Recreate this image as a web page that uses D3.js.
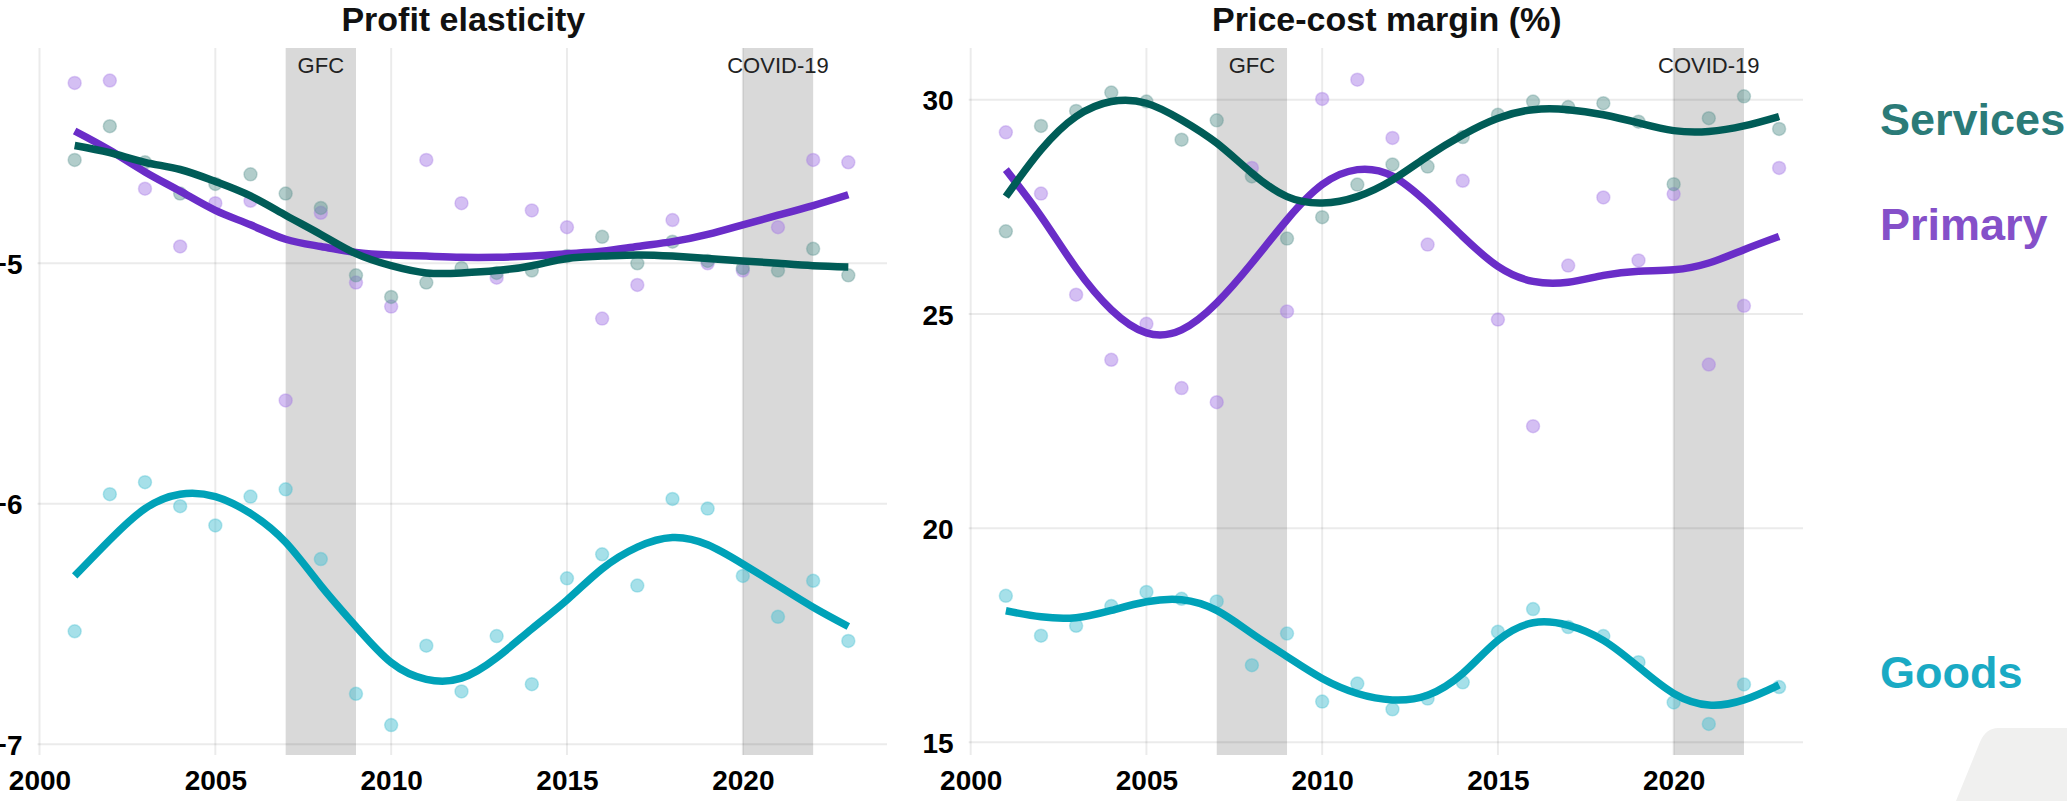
<!DOCTYPE html>
<html>
<head>
<meta charset="utf-8">
<script src="https://cdn.jsdelivr.net/npm/d3@7"></script>
<style>
  body { margin: 0; background: #fff; }
  svg { display: block; font-family: "Liberation Sans", Arial, sans-serif; }
  .axis text { font-size: 28px; font-weight: bold; fill: #000; }
  .panel-title { font-size: 34px; font-weight: bold; fill: #111; text-anchor: middle; }
  .band-label { font-size: 22px; fill: #222; text-anchor: middle; }
  .legend-label { font-size: 45px; font-weight: bold; }
</style>
</head>
<body>
<svg id="viz"></svg>
<script>
// ----------------------------------------------------------------------------------------------------------------
// DATA

var years = [2001, 2002, 2003, 2004, 2005, 2006, 2007, 2008, 2009, 2010, 2011, 2012,
             2013, 2014, 2015, 2016, 2017, 2018, 2019, 2020, 2021, 2022, 2023];

var seriesNames = ["Services", "Primary", "Goods"];

// profit elasticity, yearly estimates
var elasticityServices = [-4.57, -4.43, -4.58, -4.71, -4.67, -4.63, -4.71, -4.77, -5.05, -5.14, -5.08, -5.02,
                          -5.04, -5.03, -4.97, -4.89, -5.00, -4.91, -4.99, -5.02, -5.03, -4.94, -5.05];
var elasticityPrimary  = [-4.25, -4.24, -4.69, -4.93, -4.75, -4.74, -5.57, -4.79, -5.08, -5.18, -4.57, -4.75,
                          -5.06, -4.78, -4.85, -5.23, -5.09, -4.82, -5.00, -5.03, -4.85, -4.57, -4.58];
var elasticityGoods    = [-6.53, -5.96, -5.91, -6.01, -6.09, -5.97, -5.94, -6.23, -6.79, -6.92, -6.59, -6.78,
                          -6.55, -6.75, -6.31, -6.21, -6.34, -5.98, -6.02, -6.30, -6.47, -6.32, -6.57];

// profit elasticity, smoothed trend
var elasticityServicesTrend = [-4.51, -4.54, -4.58, -4.61, -4.66, -4.72, -4.80, -4.88, -4.96, -5.01, -5.04, -5.04,
                               -5.03, -5.01, -4.98, -4.97, -4.965, -4.97, -4.98, -4.99, -5.00, -5.01, -5.015];
var elasticityPrimaryTrend  = [-4.45, -4.53, -4.62, -4.70, -4.78, -4.84, -4.90, -4.93, -4.955, -4.965, -4.97, -4.975,
                               -4.975, -4.97, -4.96, -4.95, -4.93, -4.91, -4.88, -4.84, -4.80, -4.76, -4.715];
var elasticityGoodsTrend    = [-6.30, -6.15, -6.02, -5.96, -5.97, -6.04, -6.16, -6.34, -6.51, -6.66, -6.73, -6.725,
                               -6.64, -6.52, -6.40, -6.27, -6.18, -6.14, -6.17, -6.25, -6.34, -6.43, -6.51];

// price-cost margin (%), yearly estimates
var marginServices = [26.93, 29.39, 29.74, 30.17, 29.96, 29.07, 29.52, 28.21, 26.76, 27.26, 28.02, 28.49,
                      28.44, 29.13, 29.65, 29.96, 29.83, 29.92, 29.49, 28.03, 29.57, 30.08, 29.32];
var marginPrimary  = [29.24, 27.81, 25.45, 23.93, 24.77, 23.27, 22.94, 28.41, 25.06, 30.02, 30.47, 29.11,
                      26.62, 28.11, 24.87, 22.38, 26.13, 27.72, 26.25, 27.80, 23.82, 25.19, 28.41];
var marginGoods    = [18.42, 17.49, 17.72, 18.18, 18.51, 18.35, 18.29, 16.80, 17.54, 15.95, 16.37, 15.77,
                      16.02, 16.40, 17.58, 18.11, 17.69, 17.48, 16.87, 15.93, 15.43, 16.35, 16.29];

// price-cost margin (%), smoothed trend
var marginServicesTrend = [27.74, 28.83, 29.61, 29.96, 29.92, 29.53, 28.99, 28.29, 27.74, 27.59, 27.74, 28.13,
                           28.68, 29.18, 29.57, 29.77, 29.77, 29.65, 29.46, 29.28, 29.26, 29.39, 29.61];
var marginPrimaryTrend  = [28.37, 27.28, 26.07, 25.10, 24.56, 24.63, 25.26, 26.19, 27.20, 28.02, 28.37, 28.22,
                           27.59, 26.81, 26.11, 25.76, 25.74, 25.90, 26.00, 26.03, 26.19, 26.50, 26.81];
var marginGoodsTrend    = [18.07, 17.93, 17.91, 18.08, 18.28, 18.33, 18.08, 17.54, 17.00, 16.49, 16.14, 15.99,
                           16.10, 16.61, 17.38, 17.79, 17.73, 17.38, 16.76, 16.14, 15.87, 15.99, 16.34];

var xTicks = [2000, 2005, 2010, 2015, 2020];
var elasticityTicks = [-7, -6, -5];
var marginTicks = [15, 20, 25, 30];

var crisisLabels = ["GFC", "COVID-19"];
var crisisStart = [2007, 2020];
var crisisEnd = [2009, 2022];



// ----------------------------------------------------------------------------------------------------------------
// INITIAL SETUP

var w = 2067;
var h = 801;
var viz = d3.select("#viz").attr("width", w).attr("height", h);

var lineColor  = {"Services": "#005c57", "Primary": "#6a2dc8", "Goods": "#00a2b8"};
var pointColor = {"Services": "#5f9692", "Primary": "#a57ae6", "Goods": "#45bfd2"};
var labelColor = {"Services": "#2b7b78", "Primary": "#8550c9", "Goods": "#1aaac4"};

var plotTop = 48;
var plotBottom = 755;

var panels = [
  {
    title: "Profit elasticity",
    x: d3.scaleLinear().domain([2000, 2024.1]).range([39.5, 887]),
    y: d3.scaleLinear().domain([-7, -5]).range([744.3, 263.3]),
    yTicks: elasticityTicks,
    points: {"Services": elasticityServices, "Primary": elasticityPrimary, "Goods": elasticityGoods},
    trends: {"Services": elasticityServicesTrend, "Primary": elasticityPrimaryTrend, "Goods": elasticityGoodsTrend}
  },
  {
    title: "Price-cost margin (%)",
    x: d3.scaleLinear().domain([2000, 2023.68]).range([970.7, 1803]),
    y: d3.scaleLinear().domain([15, 30]).range([742.3, 99.8]),
    yTicks: marginTicks,
    points: {"Services": marginServices, "Primary": marginPrimary, "Goods": marginGoods},
    trends: {"Services": marginServicesTrend, "Primary": marginPrimaryTrend, "Goods": marginGoodsTrend}
  }
];

// decorative corner shape
viz.append("path")
  .attr("d", "M2067,728 L1998,728 Q1986,728 1980,742 L1956,801 L2067,801 Z")
  .attr("fill", "#f0f0ef");



// ----------------------------------------------------------------------------------------------------------------
// PANELS

panels.forEach(function(p) {
  var g = viz.append("g");
  var x0 = p.x.range()[0];
  var x1 = p.x.range()[1];

  // shaded crisis periods
  g.selectAll("rect.band")
    .data(crisisLabels)
    .enter()
    .append("rect")
    .attr("class", "band")
    .attr("x", function(d, i) { return p.x(crisisStart[i]); })
    .attr("width", function(d, i) { return p.x(crisisEnd[i]) - p.x(crisisStart[i]); })
    .attr("y", plotTop)
    .attr("height", plotBottom - plotTop)
    .attr("fill", "#d9d9d9");

  // gridlines
  g.selectAll("line.vgrid")
    .data(xTicks)
    .enter()
    .append("line")
    .attr("x1", function(d) { return p.x(d); })
    .attr("x2", function(d) { return p.x(d); })
    .attr("y1", plotTop)
    .attr("y2", plotBottom)
    .attr("stroke", "#000")
    .attr("stroke-opacity", 0.08)
    .attr("stroke-width", 2);

  g.selectAll("line.hgrid")
    .data(p.yTicks)
    .enter()
    .append("line")
    .attr("x1", x0 - 2)
    .attr("x2", x1)
    .attr("y1", function(d) { return p.y(d); })
    .attr("y2", function(d) { return p.y(d); })
    .attr("stroke", "#000")
    .attr("stroke-opacity", 0.08)
    .attr("stroke-width", 2);

  // crisis labels
  g.selectAll("text.band-label")
    .data(crisisLabels)
    .enter()
    .append("text")
    .attr("class", "band-label")
    .attr("x", function(d, i) { return p.x((crisisStart[i] + crisisEnd[i]) / 2); })
    .attr("y", 73)
    .text(function(d) { return d; });

  // axes
  var xAxis = g.append("g")
    .attr("class", "axis")
    .attr("transform", "translate(0," + plotBottom + ")")
    .call(d3.axisBottom(p.x).tickValues(xTicks).tickFormat(d3.format("d")).tickSize(0).tickPadding(15));
  xAxis.select(".domain").remove();

  var yAxis = g.append("g")
    .attr("class", "axis")
    .attr("transform", "translate(" + x0 + ",0)")
    .call(d3.axisLeft(p.y).tickValues(p.yTicks).tickFormat(d3.format("d")).tickSize(0).tickPadding(17));
  yAxis.select(".domain").remove();
  yAxis.selectAll("text").attr("dy", "0.36em");

  // title
  g.append("text")
    .attr("class", "panel-title")
    .attr("x", (x0 + x1) / 2)
    .attr("y", 31)
    .text(p.title);

  // scatter points
  seriesNames.slice().reverse().forEach(function(name) {
    g.selectAll("circle.pt-" + name)
      .data(p.points[name])
      .enter()
      .append("circle")
      .attr("cx", function(d, i) { return p.x(years[i]); })
      .attr("cy", function(d) { return p.y(d); })
      .attr("r", 6.5)
      .attr("fill", pointColor[name])
      .attr("fill-opacity", 0.48)
      .attr("stroke", pointColor[name])
      .attr("stroke-opacity", 0.35)
      .attr("stroke-width", 1.5);
  });

  // smoothed trend lines
  seriesNames.slice().reverse().forEach(function(name) {
    var line = d3.line()
      .x(function(d, i) { return p.x(years[i]); })
      .y(function(d) { return p.y(d); })
      .curve(d3.curveNatural);

    g.append("path")
      .datum(p.trends[name])
      .attr("d", line)
      .attr("fill", "none")
      .attr("stroke", lineColor[name])
      .attr("stroke-width", 7.5)
      .attr("stroke-linecap", "butt");
  });
});



// ----------------------------------------------------------------------------------------------------------------
// LEGEND

var legendY = {"Services": 135, "Primary": 240, "Goods": 688};

viz.selectAll("text.legend-label")
  .data(seriesNames)
  .enter()
  .append("text")
  .attr("class", "legend-label")
  .attr("x", 1880)
  .attr("y", function(d) { return legendY[d]; })
  .attr("fill", function(d) { return labelColor[d]; })
  .text(function(d) { return d; });
</script>
</body>
</html>
